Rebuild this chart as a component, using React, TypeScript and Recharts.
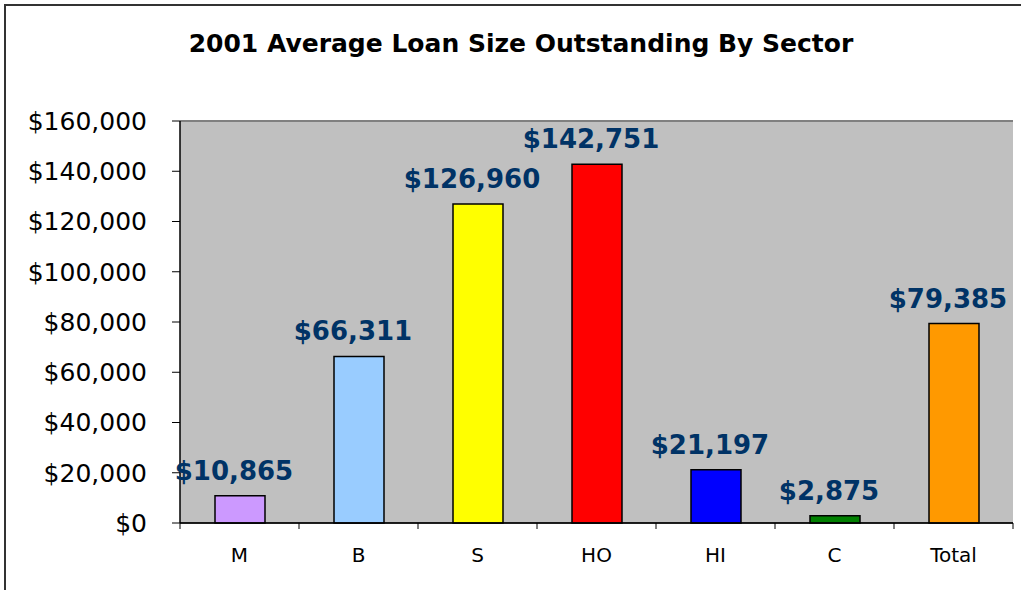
import React from 'react';
import { BarChart, Bar, XAxis, YAxis, CartesianGrid, Cell, LabelList, ReferenceLine } from 'recharts';

const sectors = ['M', 'B', 'S', 'HO', 'HI', 'C', 'Total'];
const avgLoan = [10865, 66311, 126960, 142751, 21197, 2875, 79385];
const barColors = ['#CC99FF', '#99CCFF', '#FFFF00', '#FF0000', '#0000FF', '#008000', '#FF9900'];
const yTicks = [0, 20000, 40000, 60000, 80000, 100000, 120000, 140000, 160000];
const titleText = '2001 Average Loan Size Outstanding By Sector';

const data = sectors.map((s, i) => ({ sector: s, value: avgLoan[i] }));
const fmt = (v: number) => '$' + Number(v).toLocaleString('en-US');

const W = 1021;
const H = 590;
const Y_AXIS_W = 180;
const MARGIN = { top: 121, right: 8, bottom: 24, left: 0 };
const X_AXIS_H = 43;
const BAND = (W - Y_AXIS_W - MARGIN.right) / sectors.length;
const X_TICK_MARGIN = 23;
const FONT = '"DejaVu Sans", Verdana, sans-serif';

function XTick(props: any) {
  const { x, y, payload, index } = props;
  const axisY = y - X_TICK_MARGIN;
  return (
    <g>
      <line x1={x - BAND / 2} x2={x - BAND / 2} y1={axisY} y2={axisY + 6} stroke="#000" strokeWidth={1} />
      {index === sectors.length - 1 && (
        <line x1={x + BAND / 2} x2={x + BAND / 2} y1={axisY} y2={axisY + 6} stroke="#000" strokeWidth={1} />
      )}
      <text x={x} y={axisY + 39} textAnchor="middle" fontSize={20} fontFamily={FONT} fill="#000">
        {payload.value}
      </text>
    </g>
  );
}

function BarLabel(props: any) {
  const { x, y, width, value } = props;
  return (
    <text
      x={x + width / 2 - 6}
      y={y - 16}
      textAnchor="middle"
      fill="#003366"
      fontSize={26}
      fontWeight="bold"
      fontFamily={FONT}
    >
      {fmt(value)}
    </text>
  );
}

export default function App() {
  return (
    <div style={{ position: 'absolute', left: 0, top: 0, width: W, height: H, overflow: 'hidden', background: '#fff' }}>
      <svg width={W} height={H} style={{ position: 'absolute', left: 0, top: 0, pointerEvents: 'none' }}>
        <rect x={5} y={5} width={1200} height={800} fill="none" stroke="#333" strokeWidth={2} />
        <text x={521} y={52} textAnchor="middle" fontSize={25} fontWeight="bold" fontFamily={FONT} fill="#000">
          {titleText}
        </text>
      </svg>
      <div style={{ position: 'absolute', left: 0, top: 0 }}>
        <BarChart width={W} height={H} data={data} margin={MARGIN}>
          <CartesianGrid vertical={false} stroke="#000" strokeWidth={1} fill="#C0C0C0" fillOpacity={1} />
          <XAxis
            dataKey="sector"
            height={X_AXIS_H}
            axisLine={{ stroke: '#000', strokeWidth: 1.5 }}
            tickLine={false}
            tickSize={0}
            tickMargin={X_TICK_MARGIN}
            tick={<XTick />}
            interval={0}
          />
          <YAxis
            yAxisId="left"
            width={Y_AXIS_W}
            domain={[0, 160000]}
            ticks={yTicks}
            tickFormatter={fmt}
            axisLine={{ stroke: '#000', strokeWidth: 1.5 }}
            tickLine={{ stroke: '#000' }}
            tickSize={8}
            tickMargin={25}
            tick={{ fontSize: 25, fontFamily: FONT, fill: '#000' }}
            interval={0}
          />
          <YAxis
            yAxisId="right"
            orientation="right"
            width={0}
            domain={[0, 160000]}
            tick={false}
            tickLine={false}
            axisLine={{ stroke: '#808080', strokeWidth: 2 }}
          />
          <ReferenceLine yAxisId="left" y={160000} stroke="#808080" strokeWidth={2} />
          <Bar yAxisId="left" dataKey="value" barSize={50} stroke="#000" strokeWidth={1.5} isAnimationActive={false}>
            {data.map((d, i) => (
              <Cell key={d.sector} fill={barColors[i]} />
            ))}
            <LabelList dataKey="value" content={<BarLabel />} />
          </Bar>
        </BarChart>
      </div>
    </div>
  );
}
